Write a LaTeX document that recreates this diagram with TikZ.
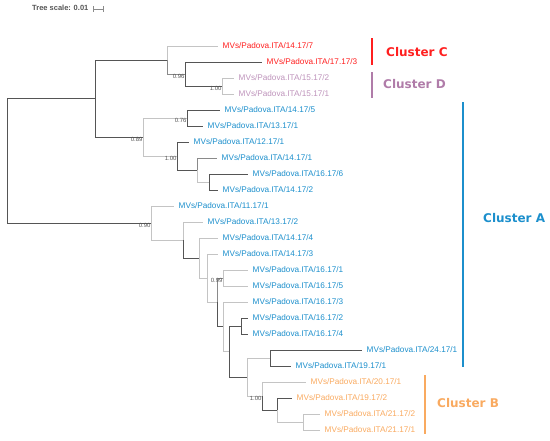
\documentclass[tikz,border=0pt]{standalone}
\usepackage{fontspec}
\setmainfont{Liberation Sans}
\newfontfamily\clfont{DejaVu Sans}
\usepackage{tikz}
\usetikzlibrary{positioning}

\definecolor{treeDark}{HTML}{555555}
\definecolor{treeMid}{HTML}{8A8A8A}
\definecolor{treeLight}{HTML}{C4C4C4}
\definecolor{cRed}{HTML}{FF1F1F}
\definecolor{cPurple}{HTML}{BE93BB}
\definecolor{cPurpleDk}{HTML}{B07CA9}
\definecolor{cBlue}{HTML}{1C8FCC}
\definecolor{cOrange}{HTML}{F9AA60}

\begin{document}
\begin{tikzpicture}[x=1pt,y=-1pt,
    dbr/.style={draw=treeDark,line width=1pt},
    mbr/.style={draw=treeMid,line width=1pt},
    lbr/.style={draw=treeLight,line width=1pt},
    leaf/.style={inner sep=0pt,font=\fontsize{8.2}{9}\selectfont},
    boot/.style={inner sep=0.3pt,anchor=north east,text=treeDark,font=\fontsize{6}{7}\selectfont},
    clbar/.style={line width=2pt},
    cllab/.style={anchor=west,inner sep=0pt,font=\clfont\bfseries\fontsize{12}{14}\selectfont}]
    \useasboundingbox (0,0) rectangle (550,440);

    % tree scale %
    \node[anchor=west,inner sep=0pt,text=treeDark,font=\bfseries\fontsize{7.5}{9}\selectfont] (scale) at (32,8) {Tree scale: 0.01};
    \coordinate (sc1) at (93,9);
    \coordinate (sc2) at (103,9);
    \draw[treeMid,line width=0.5pt,|-|] (sc1) -- (sc2);

    % leaves %
    \coordinate (l1) at (218,46);
    \coordinate (l2) at (262,62);
    \coordinate (l3) at (234,78);
    \coordinate (l4) at (234,94);
    \coordinate (l5) at (220,110);
    \coordinate (l6) at (203,126);
    \coordinate (l7) at (189,142);
    \coordinate (l8) at (217,158);
    \coordinate (l9) at (248,174);
    \coordinate (l10) at (218,190);
    \coordinate (l11) at (174,206);
    \coordinate (l12) at (203,222);
    \coordinate (l13) at (218,238);
    \coordinate (l14) at (218,254);
    \coordinate (l15) at (248,270);
    \coordinate (l16) at (248,286);
    \coordinate (l17) at (248,302);
    \coordinate (l18) at (248,318);
    \coordinate (l19) at (248,334);
    \coordinate (l20) at (362,350);
    \coordinate (l21) at (291,366);
    \coordinate (l22) at (306,382);
    \coordinate (l23) at (292,398);
    \coordinate (l24) at (320,414);
    \coordinate (l25) at (320,430);

    % inner nodes %
    \coordinate (root) at (7,160.75);
    \coordinate (n95) at (95,98.5);
    \coordinate (n167) at (167,60);
    \coordinate (n185) at (185,74);
    \coordinate (n222) at (222,86);
    \coordinate (n143) at (143,137);
    \coordinate (n187) at (187,118);
    \coordinate (n177) at (177,156);
    \coordinate (n197) at (197,170);
    \coordinate (n209) at (209,182);
    \coordinate (n151) at (151,223);
    \coordinate (n183) at (183,240);
    \coordinate (n199) at (199,258.1);
    \coordinate (n207) at (207,278.2);
    \coordinate (n217) at (217,302.4);
    \coordinate (nA) at (223,278);
    \coordinate (nB) at (223,326.8);
    \coordinate (nC) at (229,351.5);
    \coordinate (n241) at (241,326);
    \coordinate (nD) at (247,377);
    \coordinate (nE) at (270,358);
    \coordinate (nF) at (262,396);
    \coordinate (nG) at (277,410);
    \coordinate (nH) at (303,422);

    % branches %
    \draw[dbr] (root) |- (n95);
    \draw[dbr] (root) |- (n151);
    \draw[dbr] (n95) |- (n167);
    \draw[dbr] (n95) |- (n143);
    \draw[lbr] (n167) |- (l1);
    \draw[mbr] (n167) |- (n185);
    \draw[dbr] (n185) |- (l2);
    \draw[dbr] (n185) |- (n222);
    \draw[lbr] (n222) |- (l3);
    \draw[lbr] (n222) |- (l4);
    \draw[lbr] (n143) |- (n187);
    \draw[lbr] (n143) |- (n177);
    \draw[dbr] (n187) |- (l5);
    \draw[dbr] (n187) |- (l6);
    \draw[dbr] (n177) |- (l7);
    \draw[dbr] (n177) |- (n197);
    \draw[mbr] (n197) |- (l8);
    \draw[lbr] (n197) |- (n209);
    \draw[dbr] (n209) |- (l9);
    \draw[dbr] (n209) |- (l10);
    \draw[lbr] (n151) |- (l11);
    \draw[lbr] (n151) |- (n183);
    \draw[lbr] (n183) |- (l12);
    \draw[dbr] (n183) |- (n199);
    \draw[lbr] (n199) |- (l13);
    \draw[lbr] (n199) |- (n207);
    \draw[lbr] (n207) |- (l14);
    \draw[lbr] (n207) |- (n217);
    \draw[mbr] (n217) |- (nA);
    \draw[lbr] (nA) |- (l15);
    \draw[lbr] (nA) |- (l16);
    \draw[dbr] (n217) |- (nB);
    \draw[lbr] (nB) |- (l17);
    \draw[lbr] (nB) |- (nC);
    \draw[dbr] (nC) |- (n241);
    \draw[dbr] (n241) |- (l18);
    \draw[dbr] (n241) |- (l19);
    \draw[dbr] (nC) |- (nD);
    \draw[lbr] (nD) |- (nE);
    \draw[dbr] (nE) |- (l20);
    \draw[dbr] (nE) |- (l21);
    \draw[lbr] (nD) |- (nF);
    \draw[lbr] (nF) |- (l22);
    \draw[dbr] (nF) |- (nG);
    \draw[dbr] (nG) |- (l23);
    \draw[lbr] (nG) |- (nH);
    \draw[lbr] (nH) |- (l24);
    \draw[lbr] (nH) |- (l25);

    % support values %
    \node[boot] (s185) at (n185) {0.96};
    \node[boot] (s222) at (n222) {1.00};
    \node[boot] (s187) at (n187) {0.76};
    \node[boot] (s143) at (n143) {0.89};
    \node[boot] (s177) at (n177) {1.00};
    \node[boot] (s151) at (n151) {0.90};
    \node[boot] (sA) at (nA) {0.99};
    \node[boot] (sF) at (nF) {1.00};

    % leaf labels %
    \node[leaf,text=cRed,right=4.5pt of l1] (t1) {MVs/Padova.ITA/14.17/7};
    \node[leaf,text=cRed,right=4.5pt of l2] (t2) {MVs/Padova.ITA/17.17/3};
    \node[leaf,text=cPurple,right=4.5pt of l3] (t3) {MVs/Padova.ITA/15.17/2};
    \node[leaf,text=cPurple,right=4.5pt of l4] (t4) {MVs/Padova.ITA/15.17/1};
    \node[leaf,text=cBlue,right=4.5pt of l5] (t5) {MVs/Padova.ITA/14.17/5};
    \node[leaf,text=cBlue,right=4.5pt of l6] (t6) {MVs/Padova.ITA/13.17/1};
    \node[leaf,text=cBlue,right=4.5pt of l7] (t7) {MVs/Padova.ITA/12.17/1};
    \node[leaf,text=cBlue,right=4.5pt of l8] (t8) {MVs/Padova.ITA/14.17/1};
    \node[leaf,text=cBlue,right=4.5pt of l9] (t9) {MVs/Padova.ITA/16.17/6};
    \node[leaf,text=cBlue,right=4.5pt of l10] (t10) {MVs/Padova.ITA/14.17/2};
    \node[leaf,text=cBlue,right=4.5pt of l11] (t11) {MVs/Padova.ITA/11.17/1};
    \node[leaf,text=cBlue,right=4.5pt of l12] (t12) {MVs/Padova.ITA/13.17/2};
    \node[leaf,text=cBlue,right=4.5pt of l13] (t13) {MVs/Padova.ITA/14.17/4};
    \node[leaf,text=cBlue,right=4.5pt of l14] (t14) {MVs/Padova.ITA/14.17/3};
    \node[leaf,text=cBlue,right=4.5pt of l15] (t15) {MVs/Padova.ITA/16.17/1};
    \node[leaf,text=cBlue,right=4.5pt of l16] (t16) {MVs/Padova.ITA/16.17/5};
    \node[leaf,text=cBlue,right=4.5pt of l17] (t17) {MVs/Padova.ITA/16.17/3};
    \node[leaf,text=cBlue,right=4.5pt of l18] (t18) {MVs/Padova.ITA/16.17/2};
    \node[leaf,text=cBlue,right=4.5pt of l19] (t19) {MVs/Padova.ITA/16.17/4};
    \node[leaf,text=cBlue,right=4.5pt of l20] (t20) {MVs/Padova.ITA/24.17/1};
    \node[leaf,text=cBlue,right=4.5pt of l21] (t21) {MVs/Padova.ITA/19.17/1};
    \node[leaf,text=cOrange,right=4.5pt of l22] (t22) {MVs/Padova.ITA/20.17/1};
    \node[leaf,text=cOrange,right=4.5pt of l23] (t23) {MVs/Padova.ITA/19.17/2};
    \node[leaf,text=cOrange,right=4.5pt of l24] (t24) {MVs/Padova.ITA/21.17/2};
    \node[leaf,text=cOrange,right=4.5pt of l25] (t25) {MVs/Padova.ITA/21.17/1};

    % clusters %
    \draw[clbar,cRed] (372,38) -- (372,65);
    \node[cllab,text=cRed] (clC) at (386,52) {Cluster C};
    \draw[clbar,cPurpleDk] (372,72) -- (372,98);
    \node[cllab,text=cPurpleDk] (clD) at (383,84) {Cluster D};
    \draw[clbar,cBlue] (463,102) -- (463,367);
    \node[cllab,text=cBlue] (clA) at (483,218) {Cluster A};
    \draw[clbar,cOrange] (425,375) -- (425,434);
    \node[cllab,text=cOrange] (clB) at (437,403) {Cluster B};
\end{tikzpicture}
\end{document}
